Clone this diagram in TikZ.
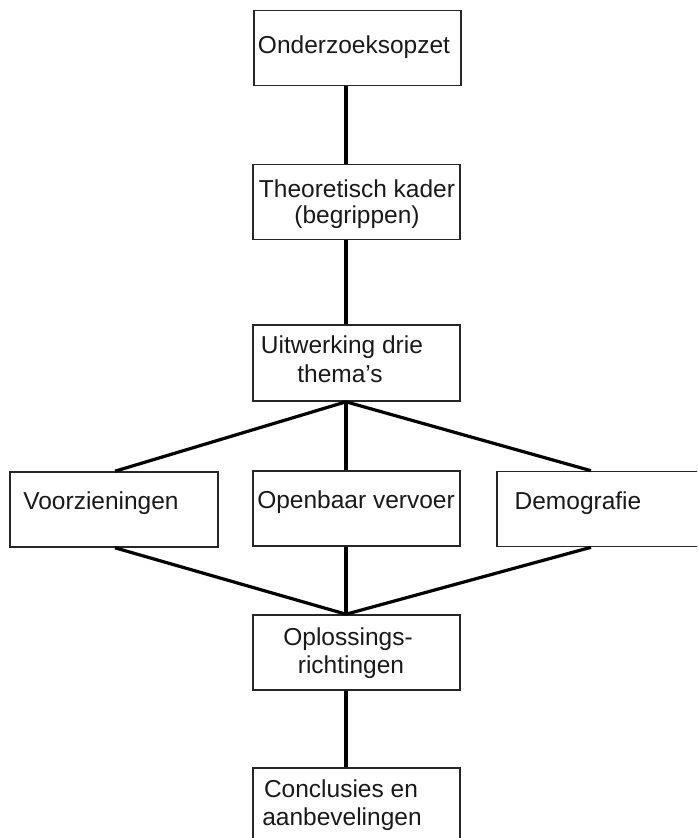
\documentclass[tikz,border=0pt]{standalone}
\usepackage{fontspec}
\setmainfont{Liberation Sans}
\begin{document}
\begin{tikzpicture}[x=1pt,y=-1pt,
  box/.style={draw=black!85,line width=1.6pt,rectangle,inner sep=0pt,
    minimum width=207pt,minimum height=75pt},
  txt/.style={anchor=base,inner sep=0pt,font=\fontsize{24.5}{29}\selectfont,text=black!90},
  link/.style={line width=3.2pt,black}]
\useasboundingbox (0,0) rectangle (697,838);
\clip (0,0) rectangle (697,838);
% attachment columns of the connectors
\coordinate (spine) at (346,0);
\coordinate (leftcol) at (115,0);
\coordinate (rightcol) at (591,0);
% boxes
\node[box] (opzet) at (357.5,48) {};
\node[box] (kader) at (356.5,202) {};
\node[box,minimum height=76pt] (themas) at (356.5,363) {};
\node[box,minimum width=208pt] (voorz) at (114,509.5) {};
\node[box] (ov) at (356.5,508.5) {};
\node[box,minimum width=208pt] (demo) at (601,509) {};
\node[box] (oplos) at (356.5,652.5) {};
\node[box] (concl) at (356.5,805.5) {};
% labels
\node[txt] (t1) at (354,53) {Onderzoeksopzet};
\node[txt] (t2a) at (357,197) {Theoretisch kader};
\node[txt] (t2b) at (357,223) {(begrippen)};
\node[txt] (t3a) at (342,353) {Uitwerking drie};
\node[txt] (t3b) at (340,382) {thema\char39 s};
\node[txt] (t4) at (101,509) {Voorzieningen};
\node[txt] (t5) at (356,508) {Openbaar vervoer};
\node[txt] (t6) at (578,509) {Demografie};
\node[txt] (t7a) at (348,645) {Oplossings-};
\node[txt] (t7b) at (351,673) {richtingen};
\node[txt] (t8a) at (341,797) {Conclusies en};
\node[txt] (t8b) at (342,825) {aanbevelingen};
% connectors
\draw[link] (opzet.south -| spine) -- (kader.north -| spine);
\draw[link] (kader.south -| spine) -- (themas.north -| spine);
\draw[link] (themas.south -| spine) -- (ov.north -| spine);
\draw[link] (themas.south -| spine) -- (voorz.north -| leftcol);
\draw[link] (themas.south -| spine) -- (demo.north -| rightcol);
\draw[link] (ov.south -| spine) -- (oplos.north -| spine);
\draw[link] (voorz.south -| leftcol) -- (oplos.north -| spine);
\draw[link] (demo.south -| rightcol) -- (oplos.north -| spine);
\draw[link] (oplos.south -| spine) -- (concl.north -| spine);
\end{tikzpicture}
\end{document}
